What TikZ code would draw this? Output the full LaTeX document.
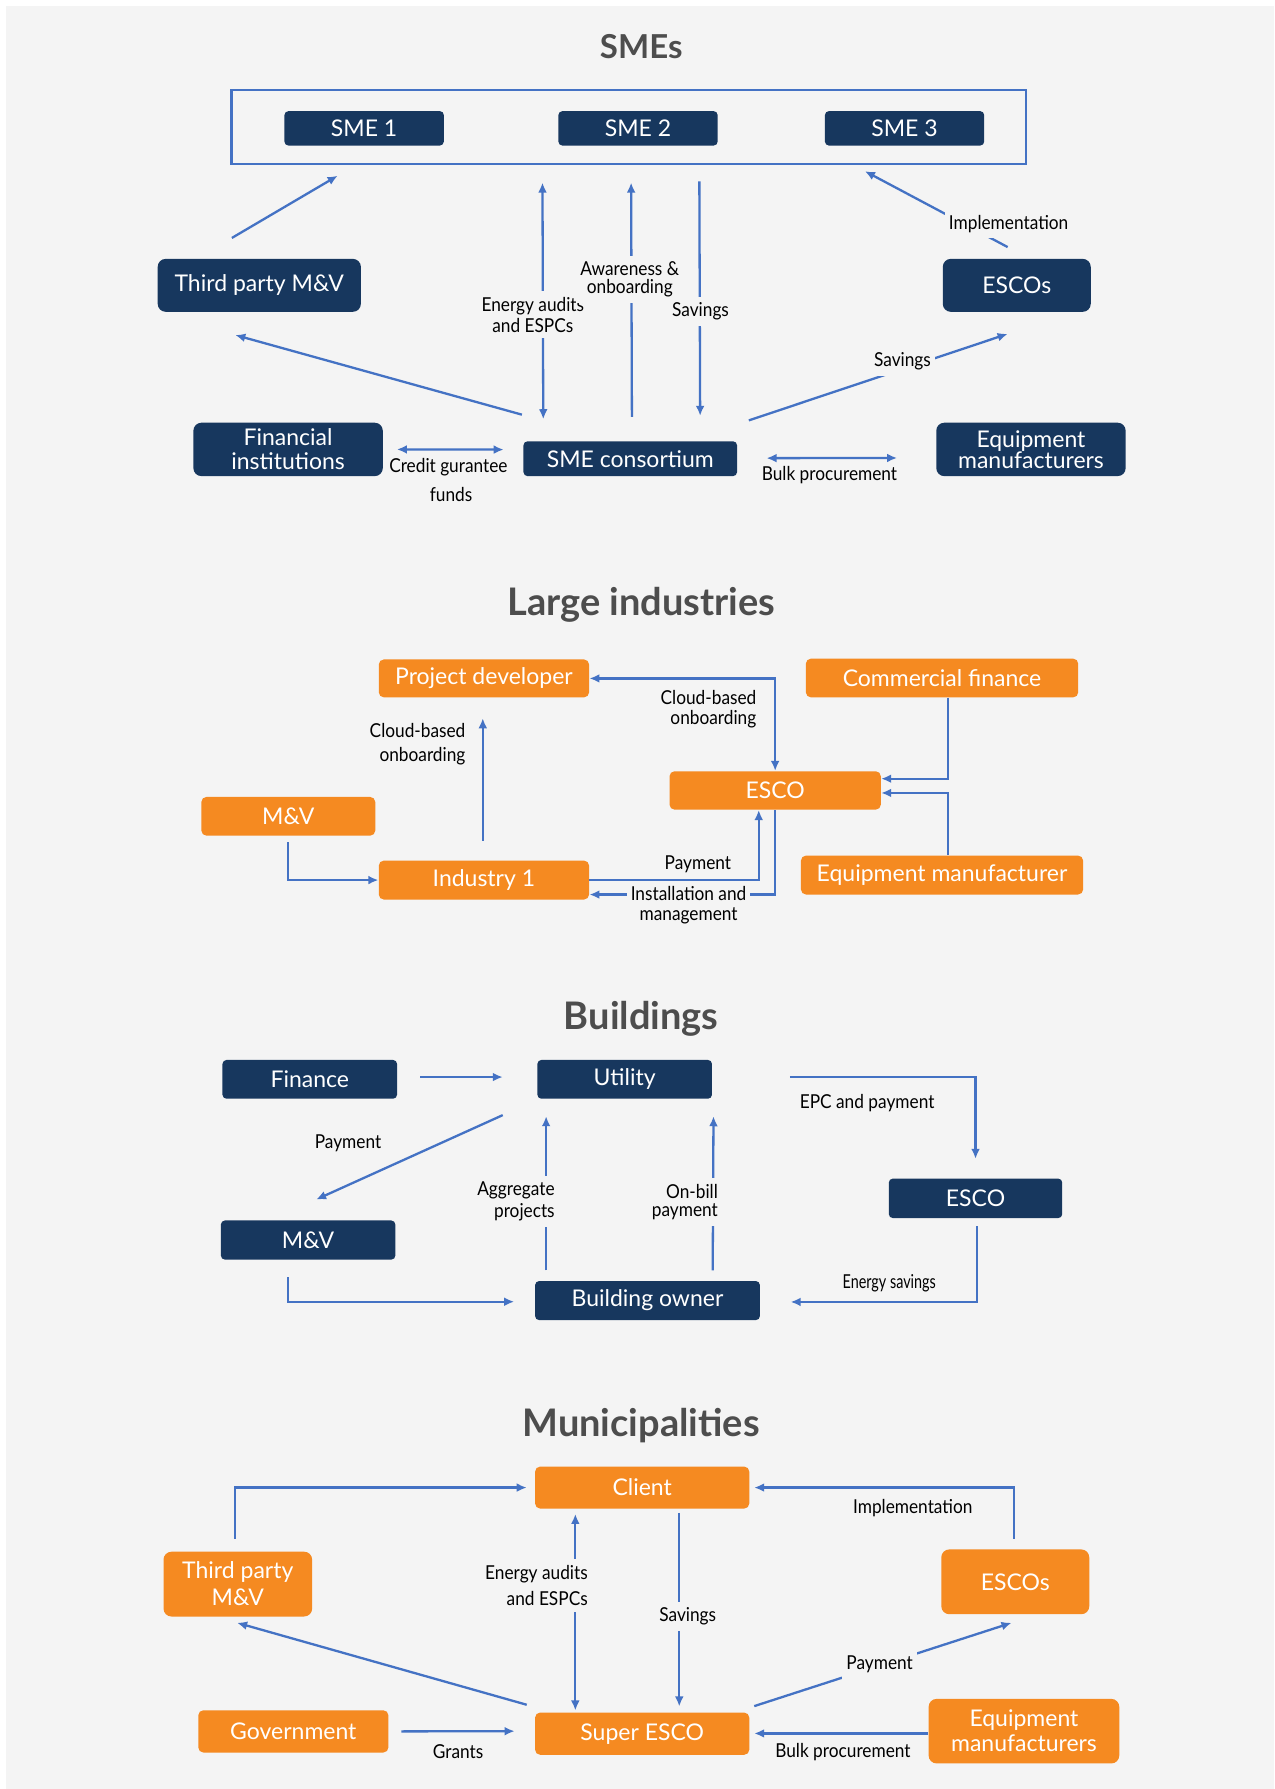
\documentclass[tikz,border=0pt]{standalone}
\usepackage{fontspec}
\setmainfont{Lato}
\newfontfamily\boxfont{Lato}
\newfontfamily\labfont[FakeStretch=0.9]{Lato}
\newfontfamily\narrowfont[FakeStretch=0.75]{Lato}
\usetikzlibrary{arrows.meta,calc}
\definecolor{navyc}{HTML}{17375E}
\definecolor{orangec}{HTML}{F58A21}
\definecolor{bluec}{HTML}{4472C4}
\definecolor{bgc}{HTML}{F4F4F4}
\definecolor{titlec}{HTML}{4D4D4D}
\newcommand{\bx}[7]{\node[#2, minimum width={(#5-#3)*0.5707pt}, minimum height={(#6-#4)*0.5707pt}] (#1) at ({(#3+#5)/2},{(#4+#6)/2}) {#7};}
\tikzset{
 base/.style={inner sep=0pt, align=center, text=white, font=\boxfont\fontsize{11.5}{12.5}\selectfont},
 navy/.style={base, fill=navyc, rounded corners=2pt},
 navyr/.style={base, fill=navyc, rounded corners=4pt},
 orng/.style={base, fill=orangec, rounded corners=2.5pt},
 orngr/.style={base, fill=orangec, rounded corners=4pt},
 frame/.style={draw=bluec, line width=1.2pt, inner sep=0pt},
 ttl/.style={font=\bfseries\fontsize{19}{22}\selectfont, text=titlec, inner sep=0pt, anchor=base},
 lab/.style={font=\labfont\fontsize{9.6}{10.4}\selectfont, text=black, inner sep=1pt, align=center},
 labf/.style={lab, fill=bgc, inner xsep=2pt, inner ysep=3pt},
 conn/.style={draw=bluec, line width=1.15pt},
 arr/.style={conn, -{Latex[length=5pt,width=4.4pt]}},
 darr/.style={conn, {Latex[length=5pt,width=4.4pt]}-{Latex[length=5pt,width=4.4pt]}},
}
\begin{document}
\begin{tikzpicture}[x=0.5707pt, y=-0.5707pt]
\useasboundingbox (0,0) rectangle (1117,1568);
\fill[white] (0,0) rectangle (1117,1568);
\fill[bgc] (5,5) rectangle (1117,1568);

% ================= SMEs =================
\node[ttl, font=\bfseries\fontsize{16.5}{20}\selectfont] (t1) at (562,51.3) {SMEs};
\bx{smebox}{frame}{203}{79}{899}{144}{}
\bx{sme1}{navy}{249.3}{97.4}{389}{127.6}{SME 1}
\bx{sme2}{navy}{489.4}{97.4}{629}{127.6}{SME 2}
\bx{sme3}{navy}{723}{97.4}{862.6}{127.6}{SME 3}
\bx{tpmv}{navyr}{138.2}{226.9}{316.3}{273.3}{Third party M\&V}
\bx{escos}{navyr}{826.3}{226.9}{956}{273.3}{ESCOs}
\bx{fin}{navyr}{169.5}{370.5}{335.5}{417.3}{Financial\\[-0.5pt]institutions}
\bx{cons}{navy}{458.8}{386.8}{646}{417.3}{SME consortium}
\bx{equip}{navyr}{820.6}{370.5}{986.6}{417.3}{Equipment\\[-2.2pt]manufacturers}

\draw[arr] ($(tpmv.north)+(-24,-18)$) -- ($(smebox.south west)+(94,9)$);
\draw[arr] ($(cons.north west)+(-1,-23)$) -- ($(tpmv.south)+(-21,20)$);
\draw[darr] ($(smebox.south west)+(273.5,15)$) -- ($(cons.north west)+(17.7,-19)$);
\draw[arr] ($(cons.north west)+(95.4,-21)$) -- ($(smebox.south west)+(351.2,15)$);
\draw[arr] ($(smebox.south west)+(411,14)$) -- ($(cons.north west)+(155.2,-22)$);
\draw[arr] ($(escos.north)+(-8,-10)$) -- ($(smebox.south east)+(-142,5)$);
\draw[arr] ($(cons.north east)+(10,-18)$) -- ($(escos.south)+(-8,19)$);
\draw[darr] ($(fin.east)+(12,0)$) -- ($(cons.west)+(-17,-8)$);
\draw[darr] ($(cons.east)+(25.5,-0.5)$) -- ($(equip.west)+(-34,7.5)$);

\node[labf] (l1) at (467,276) {Energy audits\\and ESPCs};
\node[labf] (l2) at (552,245) {Awareness \&\\[-1.3pt]onboarding};
\node[labf] (l3) at (614,273) {Savings};
\node[labf] (l4) at (884,196) {Implementation};
\node[labf] (l5) at (791,316.5) {Savings};
\node[lab] (l6) at (393,409.7) {Credit gurantee};
\node[lab] (l7) at (395.4,433) {funds};
\node[lab] (l8) at (727,416.4) {Bulk procurement};

% ================= Large industries =================
\node[ttl] (t2) at (562,539.6) {Large industries};
\bx{pd}{orng}{332}{578}{516.3}{611.2}{Project developer}
\bx{cf}{orng}{706.3}{577.3}{945}{611.2}{Commercial finance}
\bx{lesco}{orng}{586.8}{676}{772}{709.6}{ESCO}
\bx{lmv}{orng}{176.5}{698.5}{328.9}{732.4}{M\&V}
\bx{ind}{orng}{332}{754.3}{516.3}{788.4}{Industry 1}
\bx{em}{orng}{702}{749.9}{949.3}{784}{Equipment manufacturer}

\draw[darr] (lesco.north) |- (pd.east);
\draw[arr] ($(ind.north)+(-1,-17)$) -- ($(pd.south)+(-1,18)$);
\draw[arr] ($(cf.south)+(5,0)$) |- ($(lesco.east)+(0,-10.3)$);
\draw[arr] ($(em.north)+(5,0)$) |- ($(lesco.east)+(0,2.2)$);
\draw[arr] ($(lmv.south)+(0,5.5)$) |- (ind.west);
\draw[arr] (ind.east) -| ($(lesco.south)+(-14.4,0)$);
\draw[arr] (lesco.south) |- ($(ind.east)+(0,12.7)$);

\node[lab, anchor=east, align=right] (l9) at (665,621.7) {Cloud-based\\[-0.7pt]onboarding};
\node[lab, anchor=east, align=right] (l10) at (410,652.4) {Cloud-based\\[1.6pt]onboarding};
\node[lab] (l11) at (611.7,757.8) {Payment};
\node[labf] (l12) at (603.5,793.7) {Installation and\\[-0.4pt]management};

% ================= Buildings =================
\node[ttl] (t3) at (562,902.3) {Buildings};
\bx{bfin}{navy}{195}{929}{348}{963}{Finance}
\bx{util}{navy}{471}{929}{624}{963}{Utility}
\bx{besco}{navy}{779}{1033}{931}{1067.6}{ESCO}
\bx{bmv}{navy}{193.6}{1069.7}{346.5}{1104}{M\&V}
\bx{bown}{navy}{469}{1122.8}{666}{1157}{Building owner}

\draw[arr] ($(bfin.east)+(20,-2)$) -- ($(util.west)+(-30,-2)$);
\draw[arr] ($(util.east)+(68,-2)$) -| ($(besco.north)+(0,-17)$);
\draw[arr] ($(util.south west)+(-30,14)$) -- ($(bmv.north)+(7,-18)$);
\draw[arr] ($(bown.north west)+(10,-9)$) -- ($(util.south west)+(8,15)$);
\draw[arr] ($(bown.north west)+(156,-9)$) -- ($(util.south east)+(1,15)$);
\draw[arr] ($(bmv.south)+(-17.4,15)$) |- ($(bown.west)+(-18,1)$);
\draw[arr] ($(besco.south)+(1,7)$) |- ($(bown.east)+(26.6,1.2)$);

\node[lab] (l13) at (760,967) {EPC and payment};
\node[lab] (l14) at (305,1002.2) {Payment};
\node[labf, anchor=east, align=right] (l15) at (490,1053) {Aggregate\\[0.8pt]projects};
\node[labf, anchor=east, align=right] (l16) at (633,1053.5) {On-bill\\[-1.2pt]payment};
\node[lab, font=\narrowfont\fontsize{9.6}{10.4}\selectfont] (l17) at (779.4,1124.3) {Energy savings};

% ================= Municipalities =================
\node[ttl] (t4) at (562,1258.6) {Municipalities};
\bx{client}{orng}{469}{1285.4}{656.7}{1322.2}{Client}
\bx{mtp}{orngr}{143.3}{1360}{273.6}{1416.8}{Third party\\[1pt]M\&V}
\bx{mescos}{orngr}{825}{1358}{954.7}{1414.8}{ESCOs}
\bx{gov}{orng}{173.8}{1499}{340.4}{1536}{Government}
\bx{super}{orng}{469}{1501}{656.7}{1538}{Super ESCO}
\bx{meq}{orngr}{813.9}{1489}{981}{1545.6}{Equipment\\manufacturers}

\draw[arr] ($(mtp.north)+(-2.5,-11)$) |- ($(client.west)+(-7,0)$);
\draw[arr] ($(mescos.north)+(-1,-9)$) |- ($(client.east)+(4,0)$);
\draw[darr] ($(client.south west)+(35.6,4.4)$) -- ($(super.north west)+(35.6,-1.5)$);
\draw[arr] ($(client.south west)+(126.7,3.5)$) -- ($(super.north west)+(126.7,-5)$);
\draw[arr] ($(super.north west)+(-7,-6.5)$) -- ($(mtp.south)+(-0.6,5.2)$);
\draw[arr] ($(super.north east)+(4,-5.3)$) -- ($(mescos.south)+(-3.3,7.2)$);
\draw[arr] ($(gov.east)+(11,0)$) -- ($(super.west)+(-17.6,-2.2)$);
\draw[arr] ($(meq.west)+(0,2)$) -- ($(super.east)+(4,-0.2)$);

\node[lab] (l18) at (800,1322) {Implementation};
\node[labf, anchor=east, align=right] (l19) at (519,1389.5) {Energy audits\\[2.7pt]and ESPCs};
\node[labf] (l20) at (602.8,1416.8) {Savings};
\node[labf] (l21) at (771,1458.6) {Payment};
\node[lab] (l22) at (401.5,1535.4) {Grants};
\node[lab] (l23) at (738.8,1535.4) {Bulk procurement};
\end{tikzpicture}
\end{document}
